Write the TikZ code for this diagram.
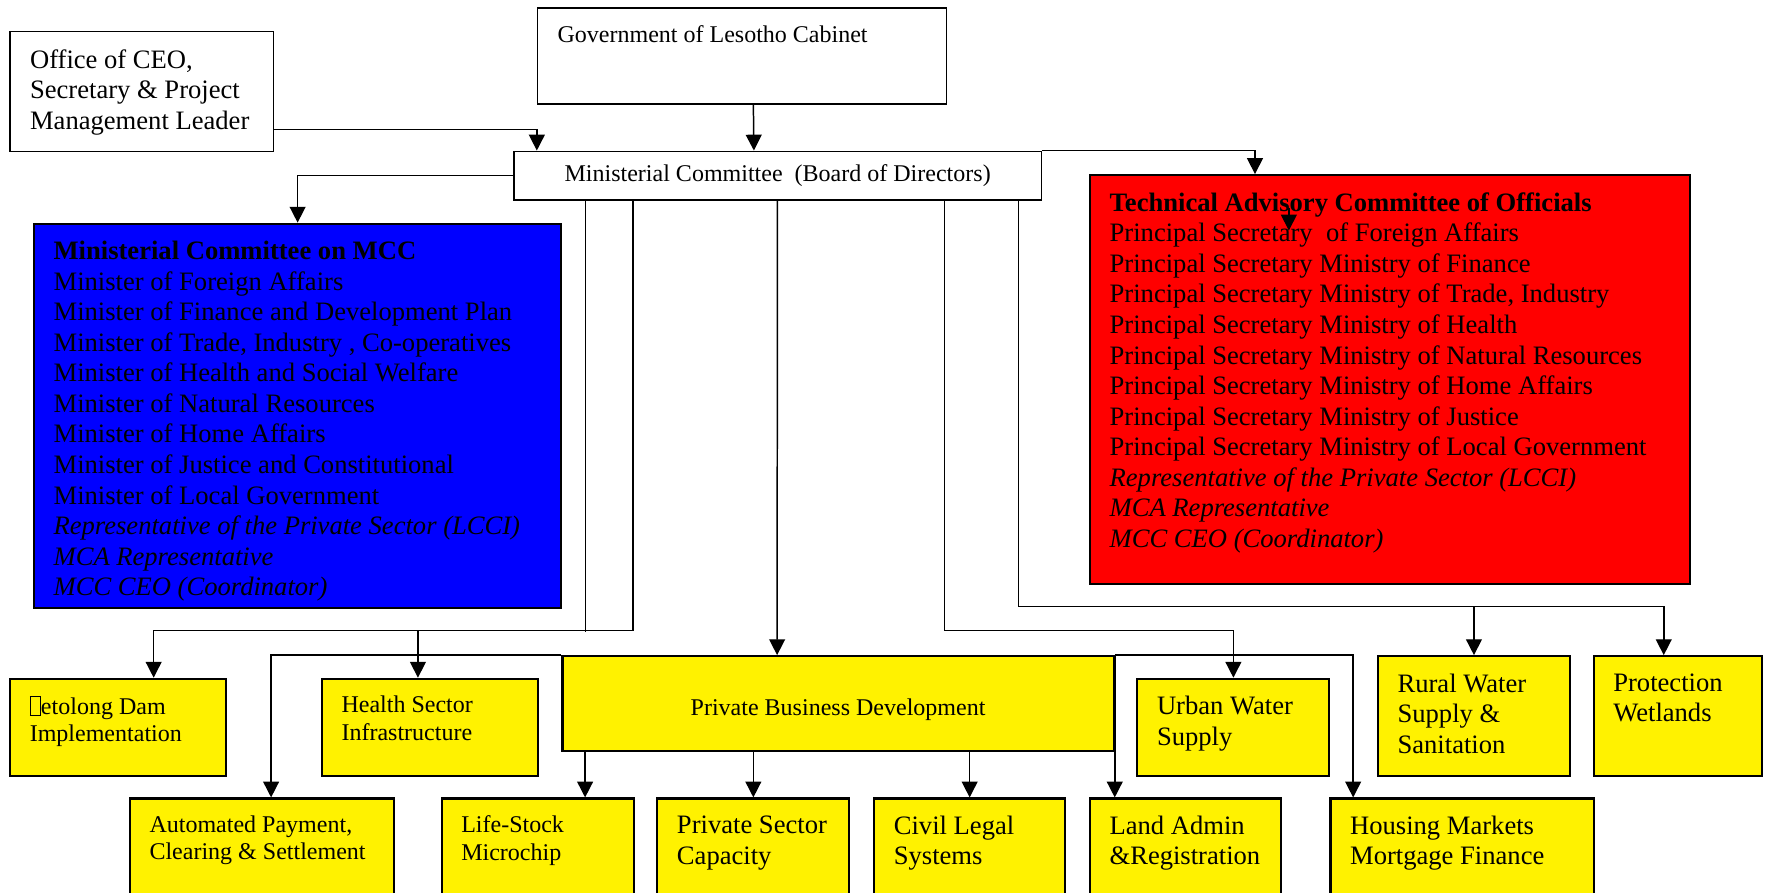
\documentclass[tikz,border=0pt]{standalone}
\usepackage{fontspec}
\setmainfont{Liberation Serif}
\usetikzlibrary{arrows.meta,calc,fit}
\tikzset{
  box/.style={draw, line width=0.8pt, inner sep=0pt},
  ybox/.style={box, line width=1.1pt, fill=yellow},
  bigtxt/.style={font=\fontsize{13.4}{15.4}\selectfont},
  smalltxt/.style={font=\fontsize{12.1}{13.7}\selectfont},
  lbl/.style={anchor=north west, align=left, inner sep=0pt, xshift=0.36cm, yshift=-0.32cm},
  mid/.style={smalltxt, anchor=center, inner sep=0pt},
  link/.style={line width=0.75pt},
  arr/.style={link, -{Triangle[length=8pt,width=8pt]}},
}
\begin{document}
\begin{tikzpicture}[x=0.02cm, y=-0.02cm]
  \useasboundingbox (0,0) rectangle (1568,790);
  \clip (0,0) rectangle (1568,790);
  \node[box, fit={(9,28) (242,134)}, label={[lbl,bigtxt]north west:Office of CEO,\\Secretary \& Project\\Management Leader}] (office) {};
  \node[box, fit={(476,7) (838,92)}, label={[lbl,smalltxt]north west:Government of Lesotho Cabinet}] (gov) {};
  \node[box, fit={(455,134) (922,177)}, label={[mid]center:Ministerial Committee~ (Board of Directors)}] (mc) {};
  \node[box, line width=1pt, fill=blue, fit={(30,198) (497,538)}, label={[lbl,bigtxt]north west:\textbf{Ministerial Committee on MCC}\\Minister of Foreign Affairs\\Minister of Finance and Development Plan\\Minister of Trade, Industry , Co-operatives\\Minister of Health and Social Welfare\\Minister of Natural Resources\\Minister of Home Affairs\\Minister of Justice and Constitutional\\Minister of Local Government\\\textit{Representative of the Private Sector (LCCI)}\\\textit{MCA Representative}\\\textit{MCC CEO (Coordinator)}}] (blue) {};
  \node[box, line width=1pt, fill=red, fit={(965,155) (1496,517)}, label={[lbl,bigtxt]north west:\textbf{Technical Advisory Committee of Officials}\\Principal Secretary~ of Foreign Affairs\\Principal Secretary Ministry of Finance\\Principal Secretary Ministry of Trade, Industry\\Principal Secretary Ministry of Health\\Principal Secretary Ministry of Natural Resources\\Principal Secretary Ministry of Home Affairs\\Principal Secretary Ministry of Justice\\Principal Secretary Ministry of Local Government\\\textit{Representative of the Private Sector (LCCI)}\\\textit{MCA Representative}\\\textit{MCC CEO (Coordinator)}}] (red) {};
  \node[ybox, fit={(9,601) (200,687)}, label={[lbl,smalltxt]north west:{\fboxsep=0pt\fboxrule=0.4pt\fbox{\rule{0pt}{1.6ex}\hspace{0.4em}}}etolong Dam\\Implementation}] (metolong) {};
  \node[ybox, fit={(285,601) (476,687)}, label={[lbl,smalltxt]north west:Health Sector\\Infrastructure}] (health) {};
  \node[ybox, fit={(498,581) (986,665)}, label={[mid,yshift=-0.1cm]center:Private Business Development}] (pbd) {};
  \node[ybox, fit={(1007,601) (1177,687)}, label={[lbl,bigtxt]north west:Urban Water\\Supply}] (urban) {};
  \node[ybox, fit={(1220,581) (1390,687)}, label={[lbl,bigtxt]north west:Rural Water\\Supply \&\\Sanitation}] (rural) {};
  \node[ybox, fit={(1411,581) (1560,687)}, label={[lbl,bigtxt]north west:Protection\\Wetlands}] (prot) {};
  \node[ybox, fit={(115,707) (349,800)}, label={[lbl,smalltxt]north west:Automated Payment,\\Clearing \& Settlement}] (auto) {};
  \node[ybox, fit={(391,707) (561,800)}, label={[lbl,smalltxt]north west:Life-Stock\\Microchip}] (life) {};
  \node[ybox, fit={(582,707) (752,800)}, label={[lbl,bigtxt]north west:Private Sector\\Capacity}] (psc) {};
  \node[ybox, fit={(774,707) (943,800)}, label={[lbl,bigtxt]north west:Civil Legal\\Systems}] (civil) {};
  \node[ybox, fit={(965,707) (1134,800)}, label={[lbl,bigtxt]north west:Land Admin\\\&Registration}] (land) {};
  \node[ybox, fit={(1178,707) (1411,800)}, label={[lbl,bigtxt]north west:Housing Markets\\Mortgage Finance}] (housing) {};
  \draw[arr] ($(office.south east)+(0,-20)$) -| ($(mc.north west)+(21,0)$);
  \draw[arr] ($(gov.south)+(10,0)$) -- ($(mc.north)+(-21,0)$);
  \draw[arr] (mc.west) -| (blue.north);
  \draw[arr] (mc.north east) -| ($(red.north west)+(147,0)$);
  \draw[arr] ($(red.north west)+(177,30)$) -- ++(0,20);
  \draw[link] ($(mc.south west)+(64,0)$) -- ++(0,382);
  \draw[arr] ($(mc.south west)+(106,0)$) |- ($(metolong.north west)+(128,-42)$) -- ($(metolong.north west)+(128,0)$);
  \draw[arr] ($(health.north west)+(86,-42)$) -- ($(health.north west)+(86,0)$);
  \draw[arr] ($(mc.south west)+(234,0)$) -- ($(pbd.north west)+(191,0)$);
  \draw[arr] (pbd.north west) -| ($(auto.north west)+(126,0)$);
  \draw[arr] (pbd.north east) -- (pbd.north east |- land.north);
  \draw[arr] (pbd.north east) -| ($(housing.north west)+(21,0)$);
  \draw[arr] ($(pbd.south west)+(21,0)$) -- ($(life.north west)+(128,0)$);
  \draw[arr] (pbd.south -| psc.north) -- (psc.north);
  \draw[arr] (pbd.south -| civil.north) -- (civil.north);
  \draw[arr] ($(mc.south west)+(382,0)$) |- ($(urban.north)+(0,-42)$) -- (urban.north);
  \draw[arr] ($(mc.south east)+(-21,0)$) |- ($(prot.north west)+(63,-43)$) -- ($(prot.north west)+(63,0)$);
  \draw[arr] ($(rural.north)+(0,-43)$) -- (rural.north);
\end{tikzpicture}
\end{document}
